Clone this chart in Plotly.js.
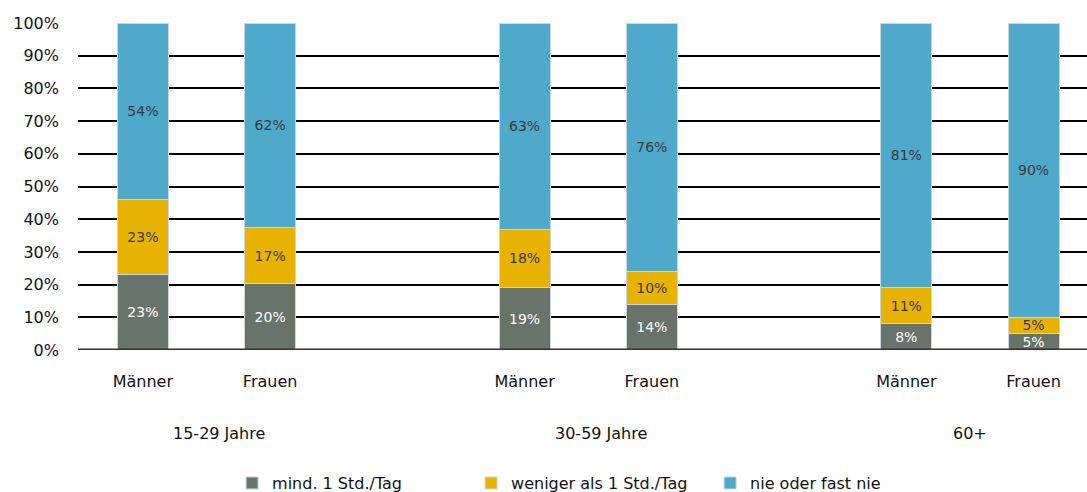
<!DOCTYPE html>
<html>
<head>
<meta charset="utf-8">
<script src="https://cdn.plot.ly/plotly-3.0.1.min.js"></script>
<style>
  body { margin: 0; background: #fff; }
  #chart { width: 1087px; height: 492px; }
</style>
</head>
<body>
<div id="chart"></div>
<script>
// bar labels and groups
const bars = ['Männer', 'Frauen', 'Männer', 'Frauen', 'Männer', 'Frauen'];
const groups = ['15-29 Jahre', '30-59 Jahre', '60+'];

// shares in percent, per bar
const mind1Std = [23, 20, 19, 14, 8, 5];
const weniger1Std = [23, 17, 18, 10, 11, 5];
const nieFastNie = [54, 62, 63, 76, 81, 90];

// x slots: two bars per group, one empty slot between groups
const xPos = [0, 1, 3, 4, 6, 7];

const font = 'DejaVu Sans, sans-serif';

function trace(name, values, color, textColor) {
  return {
    type: 'bar',
    name: name,
    x: xPos,
    y: values,
    text: values.map(v => v + '%'),
    textposition: 'inside',
    insidetextanchor: 'middle',
    textangle: 0,
    textfont: { family: font, size: 14, color: textColor },
    marker: { color: color, line: { color: '#c9d6dc', width: 1 } },
    width: 0.4,
    hoverinfo: 'name+y'
  };
}

const data = [
  trace('mind. 1 Std./Tag', mind1Std, '#687369', '#ffffff'),
  trace('weniger als 1 Std./Tag', weniger1Std, '#e8b200', '#3a3a3a'),
  trace('nie oder fast nie', nieFastNie, '#4ea9cb', '#3a3a3a')
];

// group label under each pair of bars
const annotations = groups.map((g, i) => ({
  text: g,
  x: xPos[i * 2] + (i < 2 ? 0.6 : 0.5),
  xref: 'x',
  y: -0.292,
  yref: 'paper',
  showarrow: false,
  font: { family: font, size: 16, color: '#111' }
}));

const layout = {
  barmode: 'stack',
  barnorm: 'percent',
  margin: { l: 78, r: 0, t: 23, b: 142, autoexpand: false },
  paper_bgcolor: '#fff',
  plot_bgcolor: '#fff',
  font: { family: font, size: 16, color: '#111' },
  xaxis: {
    range: [-0.51, 7.42],
    tickvals: xPos,
    ticktext: bars,
    showgrid: false,
    zeroline: false,
    ticks: '',
    ticklabelstandoff: 20,
    showline: false,
    tickfont: { family: font, size: 16, color: '#111' }
  },
  yaxis: {
    range: [0, 100],
    dtick: 10,
    ticksuffix: '%',
    showgrid: true,
    gridcolor: '#000',
    gridwidth: 2,
    zeroline: false,
    showline: false,
    ticks: '',
    ticklabelstandoff: 18,
    tickfont: { family: font, size: 16, color: '#111' }
  },
  shapes: [{
    type: 'line', xref: 'paper', yref: 'y',
    x0: 0, x1: 1, y0: 0, y1: 0,
    line: { color: '#333', width: 3 }
  }],
  annotations: annotations,
  legend: {
    orientation: 'h',
    traceorder: 'normal',
    x: 0.508, xanchor: 'center',
    yref: 'paper',
    y: -0.407, yanchor: 'middle',
    font: { family: font, size: 16, color: '#111' },
    itemwidth: 30,
    entrywidth: 194
  },
  uniformtext: { mode: 'show', minsize: 14 },
  showlegend: true
};

Plotly.newPlot('chart', data, layout, { displayModeBar: false, staticPlot: true });
</script>
</body>
</html>
